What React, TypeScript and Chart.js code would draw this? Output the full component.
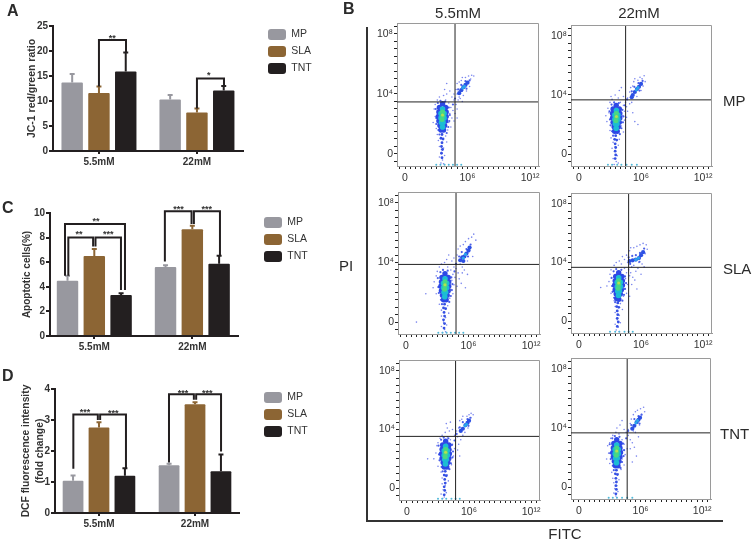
import React, { useEffect, useRef } from "react";
import { Chart, registerables } from "chart.js";

Chart.register(...registerables);
Chart.defaults.font.family = "'Liberation Sans', Arial, sans-serif";

const SERIES = ["MP", "SLA", "TNT"];
const CATEGORIES = ["5.5mM", "22mM"];
const COLORS = ["#98989f", "#8c6534", "#231f20"];

const A_VALUES = [[13.7, 10.3], [11.6, 7.7], [15.9, 12.1]];
const A_ERRORS = [[15.4, 11.2], [12.9, 8.5], [19.7, 13.0]];
const C_VALUES = [[4.5, 5.6], [6.5, 8.67], [3.34, 5.87]];
const C_ERRORS = [[4.9, 5.76], [7.07, 8.97], [3.48, 6.52]];
const D_VALUES = [[1.04, 1.54], [2.76, 3.51], [1.2, 1.35]];
const D_ERRORS = [[1.21, 1.59], [2.93, 3.57], [1.44, 1.89]];

const A_BRACKETS = [
  [[0, 12.9], [0, 22.2], [0.276, 22.2], [0.276, 19.7]],
  [[1, 8.5], [1, 14.5], [1.276, 14.5], [1.276, 13.0]],
];
const A_STARS: [number, number, string][] = [[0.136, 22.7, "**"], [1.12, 15.2, "*"]];
const C_BRACKETS = [
  [[-0.299, 4.9], [-0.299, 9.1], [0.313, 9.1], [0.313, 3.75]],
  [[-0.265, 4.9], [-0.265, 8.0], [-0.012, 8.0], [-0.012, 7.28]],
  [[0.272, 3.75], [0.272, 8.0], [0.012, 8.0], [0.012, 7.28]],
  [[0.72, 6.06], [0.72, 10.15], [0.992, 10.15], [0.992, 9.1]],
  [[1.282, 6.55], [1.282, 10.15], [1.016, 10.15], [1.016, 9.1]],
];
const C_STARS: [number, number, string][] = [
  [-0.156, 8.3, "**"], [0.143, 8.3, "***"], [0.017, 9.4, "**"], [0.86, 10.35, "***"], [1.147, 10.35, "***"],
];
const D_BRACKETS = [
  [[-0.267, 1.43], [-0.267, 3.18], [-0.012, 3.18], [-0.012, 3.0]],
  [[0.281, 1.43], [0.281, 3.18], [0.012, 3.18], [0.012, 3.0]],
  [[0.729, 1.63], [0.729, 3.83], [0.988, 3.83], [0.988, 3.65]],
  [[1.271, 1.98], [1.271, 3.83], [1.012, 3.83], [1.012, 3.65]],
];
const D_STARS: [number, number, string][] = [
  [-0.146, 3.28, "***"], [0.149, 3.25, "***"], [0.875, 3.9, "***"], [1.128, 3.9, "***"],
];

const X_TICK_LABELS: Record<number, string> = { 0: "0", 6: "10⁶", 12: "10¹²" };
const Y_TICK_LABELS: Record<number, string> = { 0: "0", 4: "10⁴", 8: "10⁸" };

const GATE_X = [4.8, 4.51, 4.8, 4.8, 4.7, 4.7];
const GATE_Y = [3.47, 3.67, 3.87, 3.67, 3.53, 3.67];

const SPARSE = [
  [2.8,3.0, 2.9,2.5, 2.7,2.1, 3.0,1.7, 2.9,3.3, 3.1,3.6, 3.3,3.8, 3.7,3.9, 3.9,3.6, 4.2,3.4, 4.4,3.1, 4.3,2.7, 4.5,2.4, 4.2,2.1, 4.6,2.9, 4.4,1.8, 4.1,1.6, 3.1,1.3, 3.2,0.9, 3.9,1.2, 4.0,0.8, 3.3,0.5, 3.7,0.4, 3.5,0.1, 3.8,-0.1, 3.3,-0.2, 3.6,-0.4, 3.45,-0.6, 3.7,-0.65, 3.5,0.3, 4.0,4.0, 3.8,4.3, 4.0,4.7, 4.3,4.2, 4.5,3.8, 4.7,3.6, 4.9,3.3, 5.0,3.0, 4.8,2.7, 5.1,3.6, 4.7,4.0, 4.9,4.3, 5.2,3.8, 5.0,2.4, 4.7,2.2, 5.0,4.7, 5.2,4.8, 5.4,4.9, 5.5,5.1, 5.8,5.1, 6.1,5.2, 6.4,5.25, 6.3,5.0, 6.6,5.2, 5.9,4.2, 5.6,3.9, 5.3,3.7, 6.2,4.5, 5.0,4.0, 5.5,3.5],
  [2.7,2.2, 2.9,2.8, 2.8,3.1, 3.0,3.5, 3.2,3.7, 3.0,1.6, 2.6,2.6, 3.1,3.9, 3.5,4.0, 3.8,3.8, 4.0,3.5, 4.3,3.3, 4.4,2.9, 4.2,2.6, 4.4,2.3, 4.1,1.9, 4.3,1.5, 3.1,1.1, 3.3,0.8, 3.9,1.0, 3.8,0.6, 3.2,0.4, 3.5,0.2, 3.7,-0.1, 3.3,-0.3, 3.6,-0.5, 3.4,-0.7, 3.8,-0.6, 3.5,0.5, 3.9,4.3, 4.1,4.5, 4.3,3.9, 4.5,3.5, 4.6,3.2, 4.7,2.9, 4.9,3.4, 4.7,3.8, 4.9,4.2, 5.1,3.9, 5.0,4.5, 4.6,2.5, 5.2,2.8, 5.4,2.2, 5.2,4.6, 5.3,4.9, 5.4,5.1, 5.7,5.0, 5.9,5.2, 6.1,5.1, 6.3,5.3, 6.4,4.9, 6.0,4.3, 5.6,3.9, 5.7,2.0, 6.2,4.6, 5.1,3.5],
  [2.9,3.1, 2.7,2.7, 2.6,2.3, 2.9,1.9, 3.0,3.4, 3.2,3.7, 3.4,3.9, 3.7,4.0, 4.0,3.7, 4.3,3.5, 4.5,3.2, 4.4,2.8, 4.6,2.5, 4.3,2.2, 4.7,3.0, 4.5,1.9, 4.2,1.6, 3.2,1.2, 3.4,0.8, 4.0,1.1, 4.1,0.6, 3.4,0.4, 3.8,0.3, 3.6,0.0, 3.9,-0.2, 3.4,-0.3, 3.7,-0.5, 3.5,-0.7, 3.8,-0.65, 1.0,0.0, 3.9,4.2, 4.1,4.5, 4.4,4.1, 4.6,3.7, 4.8,3.6, 5.0,3.3, 5.1,2.9, 5.3,2.6, 4.9,2.4, 5.4,3.3, 4.6,4.3, 4.9,4.5, 5.2,3.9, 5.6,3.5, 5.0,4.9, 5.2,5.1, 5.5,5.2, 5.7,5.4, 6.0,5.6, 6.3,5.7, 6.5,5.9, 6.7,5.5, 6.2,5.0, 6.4,4.4, 5.9,4.1, 5.4,3.7, 5.9,3.2, 1.9,1.9, 5.7,2.3],
  [3.0,3.2, 2.9,2.7, 2.7,2.4, 3.1,1.9, 3.1,3.5, 3.4,3.8, 3.6,4.0, 3.9,4.1, 4.1,3.9, 4.4,3.6, 4.6,3.3, 4.5,2.9, 4.7,2.5, 4.4,2.2, 4.9,3.1, 4.6,1.9, 4.3,1.7, 3.4,1.4, 3.5,1.0, 4.0,1.2, 4.2,0.8, 3.5,0.6, 3.9,0.4, 3.7,0.1, 4.0,-0.1, 3.5,-0.2, 3.8,-0.4, 3.6,-0.6, 3.9,-0.7, 2.1,2.3, 4.2,4.4, 4.4,4.2, 4.7,4.0, 4.8,3.5, 5.0,3.3, 5.2,3.0, 5.4,2.8, 5.1,2.5, 5.6,2.2, 5.5,3.4, 4.6,4.5, 4.9,4.8, 5.1,3.7, 5.7,3.6, 6.0,3.2, 5.0,5.0, 5.3,5.0, 5.6,5.1, 5.9,5.2, 6.2,5.3, 6.5,5.2, 6.6,4.9, 6.4,4.6, 6.1,3.9, 5.8,4.0, 5.3,3.8, 6.3,3.7, 4.9,1.7],
  [2.9,2.9, 2.8,2.4, 2.6,2.0, 3.0,1.5, 3.0,3.1, 3.2,3.4, 3.4,3.6, 3.7,3.8, 3.9,3.5, 4.2,3.3, 4.4,3.0, 4.3,2.6, 4.5,2.2, 4.2,1.9, 4.6,2.7, 4.3,1.6, 4.1,1.3, 3.3,1.1, 3.4,0.7, 3.9,0.9, 4.0,0.5, 3.4,0.3, 3.7,0.2, 3.5,-0.1, 3.8,-0.3, 3.3,-0.4, 3.6,-0.6, 3.45,-0.7, 3.9,4.1, 4.1,3.9, 3.8,4.4, 4.2,4.5, 4.4,4.0, 4.6,3.6, 4.9,3.5, 5.0,3.0, 4.9,2.6, 5.2,3.3, 5.1,2.2, 4.8,3.9, 5.0,4.1, 5.4,3.6, 5.1,4.6, 5.3,4.7, 5.4,4.9, 5.8,4.9, 6.0,5.0, 6.2,5.1, 6.4,5.0, 6.1,4.8, 5.9,4.1, 5.6,3.8, 5.3,4.0, 2.0,2.0],
  [2.8,2.8, 2.9,2.3, 2.7,1.9, 3.0,1.6, 3.0,3.0, 3.1,3.3, 3.3,3.5, 3.6,3.7, 3.9,3.6, 4.2,3.2, 4.4,2.9, 4.3,2.5, 4.5,2.2, 4.2,1.9, 4.7,2.6, 4.4,1.5, 4.1,1.2, 3.2,1.0, 3.3,0.6, 3.8,0.9, 3.9,0.5, 3.4,0.3, 3.7,0.1, 3.5,-0.1, 3.8,-0.3, 3.4,-0.4, 3.6,-0.6, 3.7,-0.7, 3.7,4.0, 4.0,4.2, 4.2,4.5, 4.4,3.9, 4.6,3.7, 4.8,3.5, 5.0,3.2, 5.2,3.0, 5.0,2.6, 5.4,2.7, 5.6,2.1, 5.2,1.7, 4.8,3.9, 5.0,4.3, 5.3,3.8, 5.1,4.6, 5.3,4.9, 5.5,5.1, 5.7,5.2, 6.0,5.3, 6.3,5.4, 6.4,5.1, 6.1,4.9, 5.9,4.2, 5.5,3.7, 5.8,3.4],
];

const HALO = [
  [2.95,3.0, 3.0,2.4, 3.0,2.0, 3.15,3.4, 3.4,3.55, 3.85,3.5, 4.2,3.1, 4.3,2.6, 4.25,2.2, 4.15,1.8, 3.2,1.6, 4.0,1.4, 3.3,1.3, 5.1,4.3, 5.4,4.6, 5.8,4.85, 6.2,4.9, 5.9,4.35, 4.8,3.7, 4.6,3.3],
  [2.95,2.9, 3.0,2.35, 3.05,1.95, 3.15,3.35, 3.4,3.5, 3.85,3.45, 4.2,3.0, 4.3,2.55, 4.25,2.15, 4.1,1.75, 3.2,1.55, 3.95,1.35, 3.3,1.25, 5.1,4.25, 5.35,4.55, 5.75,4.8, 6.15,4.95, 5.85,4.3, 4.65,3.7, 4.45,3.3],
  [3.05,2.95, 3.1,2.35, 3.15,1.95, 3.3,3.35, 3.55,3.5, 4.0,3.45, 4.35,3.0, 4.45,2.55, 4.4,2.15, 4.3,1.75, 3.35,1.5, 4.15,1.35, 3.45,1.2, 5.1,4.4, 5.35,4.7, 5.8,4.9, 6.2,5.2, 5.95,4.4, 4.8,3.9, 4.65,3.4],
  [3.15,2.95, 3.2,2.4, 3.25,2.0, 3.35,3.4, 3.6,3.55, 4.1,3.5, 4.45,3.05, 4.55,2.6, 4.45,2.2, 4.35,1.8, 3.4,1.6, 4.2,1.4, 3.5,1.3, 4.8,4.35, 5.15,4.45, 5.5,4.5, 5.9,4.65, 6.3,4.95, 5.85,4.05, 4.95,3.9],
  [3.05,2.9, 3.1,2.3, 3.15,1.9, 3.3,3.3, 3.55,3.45, 4.0,3.4, 4.35,2.95, 4.45,2.5, 4.4,2.1, 4.25,1.7, 3.35,1.45, 4.1,1.3, 3.45,1.15, 5.1,4.15, 5.4,4.5, 5.85,4.7, 6.15,4.8, 5.95,4.25, 4.8,3.7, 4.6,3.25],
  [3.0,2.9, 3.05,2.3, 3.1,1.9, 3.25,3.3, 3.5,3.45, 3.95,3.4, 4.3,2.95, 4.4,2.5, 4.35,2.1, 4.2,1.7, 3.3,1.45, 4.05,1.3, 3.4,1.15, 5.1,4.2, 5.4,4.6, 5.8,4.8, 6.1,4.9, 5.9,4.3, 4.8,3.8, 4.6,3.3],
];

const BLUE = [
  [3.6,3.35, 3.3,3.1, 3.9,3.1, 3.25,2.8, 3.95,2.8, 3.2,2.5, 3.95,2.5, 3.25,2.2, 3.9,2.2, 3.35,1.9, 3.8,1.9, 3.45,1.6, 3.7,1.6],
  [3.6,3.3, 3.3,3.05, 3.9,3.05, 3.25,2.75, 3.95,2.75, 3.25,2.45, 3.95,2.45, 3.3,2.15, 3.9,2.15, 3.4,1.85, 3.8,1.85, 3.45,1.55, 3.7,1.55],
  [3.74,3.25, 3.45,3.0, 4.05,3.0, 3.4,2.7, 4.1,2.7, 3.35,2.4, 4.1,2.4, 3.4,2.1, 4.05,2.1, 3.5,1.8, 3.95,1.8, 3.6,1.5, 3.85,1.5],
  [3.84,3.3, 3.55,3.05, 4.15,3.05, 3.5,2.75, 4.2,2.75, 3.45,2.45, 4.2,2.45, 3.5,2.15, 4.1,2.15, 3.6,1.85, 4.0,1.85, 3.65,1.55, 3.85,1.5],
  [3.74,3.2, 3.45,2.95, 4.05,2.95, 3.4,2.65, 4.05,2.65, 3.35,2.35, 4.1,2.35, 3.4,2.05, 4.05,2.05, 3.5,1.75, 3.95,1.75, 3.6,1.45, 3.85,1.45],
  [3.68,3.2, 3.4,2.95, 4.0,2.95, 3.35,2.65, 4.0,2.65, 3.3,2.35, 4.05,2.35, 3.35,2.05, 4.0,2.05, 3.45,1.75, 3.9,1.75, 3.55,1.45, 3.8,1.45],
];
const TAIL = [
  [3.55,1.3, 3.45,1.05, 3.65,1.0, 3.55,0.75, 3.5,0.5, 3.6,0.3, 3.5,0.05, 3.55,-0.25],
  [3.55,1.25, 3.45,1.0, 3.65,0.95, 3.5,0.7, 3.55,0.45, 3.5,0.2, 3.55,-0.05, 3.5,-0.3],
  [3.7,1.2, 3.6,0.95, 3.8,0.9, 3.65,0.65, 3.7,0.4, 3.6,0.15, 3.7,-0.1, 3.65,-0.4],
  [3.75,1.25, 3.65,1.0, 3.85,0.95, 3.7,0.7, 3.75,0.45, 3.7,0.2, 3.8,-0.05, 3.7,-0.35],
  [3.7,1.15, 3.6,0.9, 3.8,0.85, 3.65,0.6, 3.7,0.35, 3.6,0.1, 3.65,-0.15, 3.6,-0.45],
  [3.65,1.15, 3.55,0.9, 3.75,0.85, 3.6,0.6, 3.65,0.35, 3.6,0.1, 3.65,-0.15, 3.6,-0.45],
];
const CYAN = [
  [3.6,3.0, 3.45,2.7, 3.75,2.7, 3.45,2.4, 3.75,2.4, 3.5,2.1, 3.65,2.1, 3.6,1.8],
  [3.62,2.95, 3.47,2.65, 3.77,2.65, 3.47,2.35, 3.77,2.35, 3.52,2.05, 3.67,2.05, 3.6,1.75],
  [3.74,2.9, 3.6,2.6, 3.9,2.6, 3.6,2.3, 3.9,2.3, 3.65,2.0, 3.8,2.0, 3.72,1.7],
  [3.84,2.95, 3.7,2.65, 4.0,2.65, 3.7,2.35, 4.0,2.35, 3.75,2.05, 3.9,2.05, 3.82,1.75],
  [3.74,2.85, 3.6,2.55, 3.9,2.55, 3.6,2.25, 3.9,2.25, 3.65,1.95, 3.8,1.95, 3.72,1.65],
  [3.68,2.85, 3.53,2.55, 3.83,2.55, 3.53,2.25, 3.83,2.25, 3.58,1.95, 3.73,1.95, 3.66,1.65],
];
const GREEN = [
  [3.6,2.8, 3.6,2.55, 3.55,2.3],
  [3.62,2.75, 3.62,2.5, 3.57,2.25],
  [3.74,2.7, 3.74,2.45, 3.7,2.2],
  [3.84,2.75, 3.84,2.5, 3.8,2.25],
  [3.74,2.65, 3.74,2.4, 3.7,2.15],
  [3.68,2.65, 3.68,2.4, 3.64,2.15],
];
const YELLOW = [
  [3.6,2.6], [3.62,2.55], [3.74,2.5], [3.84,2.6], [3.74,2.45], [3.68,2.45],
];
const CLUSTER = [
  [5.2,4.05, 5.4,4.25, 5.6,4.45, 5.8,4.6, 6.0,4.75],
  [5.2,4.0, 5.4,4.2, 5.6,4.4, 5.8,4.55, 6.0,4.75, 5.1,3.85],
  [5.2,4.15, 5.4,4.35, 5.6,4.4, 5.8,4.6, 6.0,4.8, 5.5,4.1, 6.1,5.0],
  [4.9,4.1, 5.2,4.15, 5.5,4.2, 5.8,4.3, 6.0,4.5, 6.2,4.7],
  [5.2,3.9, 5.4,4.05, 5.66,4.3, 5.85,4.45, 6.0,4.6],
  [5.2,3.95, 5.4,4.15, 5.63,4.4, 5.8,4.55, 5.95,4.7],
];
const CLUSTER_CORE = [
  [5.55,4.4, 5.7,4.5],
  [5.55,4.35, 5.7,4.5],
  [5.5,4.3, 5.7,4.55],
  [5.5,4.2, 5.75,4.3],
  [5.6,4.25, 5.75,4.35],
  [5.55,4.35, 5.7,4.5],
];
const STRIP = [
  [3.0,-0.72, 3.4,-0.72, 3.8,-0.72, 4.2,-0.72, 4.6,-0.72, 5.0,-0.72, 5.4,-0.72],
  [2.8,-0.72, 3.2,-0.72, 3.7,-0.72, 4.1,-0.72, 4.6,-0.72, 5.1,-0.72, 5.6,-0.72],
  [3.1,-0.72, 3.5,-0.72, 3.9,-0.72, 4.3,-0.72, 4.7,-0.72, 5.1,-0.72, 5.5,-0.72],
  [3.0,-0.72, 3.5,-0.72, 3.9,-0.72, 4.4,-0.72, 4.8,-0.72, 5.2,-0.72],
  [3.0,-0.72, 3.4,-0.72, 3.8,-0.72, 4.3,-0.72, 4.7,-0.72, 5.1,-0.72],
  [2.9,-0.72, 3.3,-0.72, 3.7,-0.72, 4.2,-0.72, 4.7,-0.72, 5.2,-0.72],
];

const pairs = (flat: number[]) => {
  const out: { x: number; y: number }[] = [];
  for (let i = 0; i + 1 < flat.length; i += 2) out.push({ x: flat[i], y: flat[i + 1] });
  return out;
};

const INK = "#231f20";

const annotate = {
  id: "annotate",
  afterDatasetsDraw(chart: any, _a: any, o: any) {
    const ctx = chart.ctx;
    const xs = chart.scales.x;
    const ys = chart.scales.y;
    ctx.save();
    o.errors.forEach((row: number[], s: number) => {
      const meta = chart.getDatasetMeta(s);
      row.forEach((v: number, i: number) => {
        const x = meta.data[i].x;
        const y = ys.getPixelForValue(v);
        ctx.strokeStyle = COLORS[s];
        ctx.lineWidth = 2;
        ctx.beginPath();
        ctx.moveTo(x, meta.data[i].y);
        ctx.lineTo(x, y);
        ctx.moveTo(x - 2.5, y);
        ctx.lineTo(x + 2.5, y);
        ctx.stroke();
      });
    });
    ctx.strokeStyle = INK;
    ctx.lineWidth = 2;
    ctx.lineJoin = "miter";
    o.brackets.forEach((path: number[][]) => {
      ctx.beginPath();
      path.forEach(([vx, vy], i) => {
        const px = xs.getPixelForValue(vx);
        const py = ys.getPixelForValue(vy);
        if (i === 0) ctx.moveTo(px, py);
        else ctx.lineTo(px, py);
      });
      ctx.stroke();
    });
    ctx.fillStyle = "#333";
    ctx.font = "bold 9px 'Liberation Sans'";
    ctx.textAlign = "center";
    ctx.textBaseline = "middle";
    o.stars.forEach(([vx, vy, t]: [number, number, string]) => {
      ctx.fillText(t, xs.getPixelForValue(vx), ys.getPixelForValue(vy) + 1);
    });
    ctx.restore();
  },
  afterLayout(chart: any, _a: any, o: any) {
    const lg = chart.legend;
    lg.left = o.legendX;
    lg.top = o.legendY;
    lg.right = o.legendX + 80;
    lg.bottom = o.legendY + 70;
  },
};

const frame = {
  id: "frame",
  afterDraw(chart: any) {
    const { left, top, right, bottom } = chart.chartArea;
    const ctx = chart.ctx;
    ctx.save();
    ctx.strokeStyle = "#9a9a9a";
    ctx.lineWidth = 1;
    ctx.beginPath();
    ctx.moveTo(left, top + 0.5);
    ctx.lineTo(right - 0.5, top + 0.5);
    ctx.lineTo(right - 0.5, bottom);
    ctx.stroke();
    ctx.restore();
  },
};

type BarSpec = {
  box: number[]; // left, top, right, bottom of the plot
  min: number; max: number;
  yMax: number; step: number;
  values: number[][]; errors: number[][];
  brackets: number[][][]; stars: [number, number, string][];
  title: string | string[]; titlePad: number; titleSize: number;
  legend: number[];
  cat: number;
};

function BarPanel({ spec, canvasBox }: { spec: BarSpec; canvasBox: number[] }) {
  const ref = useRef<HTMLCanvasElement>(null);
  useEffect(() => {
    const [cx, cy, cw, ch] = canvasBox;
    const [l, t, r, b] = spec.box;
    const chart = new Chart(ref.current!, {
      type: "bar",
      data: {
        datasets: SERIES.map((name, s) => ({
          label: name,
          data: spec.values[s].map((v, i) => ({ x: i, y: v })),
          backgroundColor: COLORS[s],
          borderColor: COLORS[s],
          borderRadius: 1,
          categoryPercentage: spec.cat,
          barPercentage: 0.8,
        })),
      },
      plugins: [annotate],
      options: {
        animation: false,
        responsive: false,
        layout: { padding: { left: 0, top: t - cy, right: cx + cw - r, bottom: 0 } },
        scales: {
          x: {
            type: "linear",
            offset: false,
            min: spec.min,
            max: spec.max,
            afterFit: (s: any) => { s.height = cy + ch - b; },
            ticks: {
              stepSize: 1,
              includeBounds: false,
              autoSkip: false,
              maxRotation: 0,
              padding: 2,
              color: "#333",
              font: { size: 10, weight: "bold" },
              callback: (v: any) => CATEGORIES[v] ?? "",
            },
            grid: { offset: false, drawOnChartArea: false, color: INK, lineWidth: 2, tickLength: 3 },
            border: { color: INK, width: 2 },
          },
          y: {
            min: 0,
            max: spec.yMax,
            afterFit: (s: any) => { s.width = l - cx; },
            ticks: {
              stepSize: spec.step,
              padding: 1,
              color: "#333",
              font: { size: 10, weight: "bold" },
            },
            grid: { drawOnChartArea: false, color: INK, lineWidth: 2, tickLength: 4 },
            border: { color: INK, width: 2 },
            title: {
              display: true,
              text: spec.title,
              color: "#333",
              padding: { top: spec.titlePad, bottom: 0 },
              font: { size: spec.titleSize, weight: "bold", lineHeight: 1.4 },
            },
          },
        },
        plugins: {
          tooltip: { enabled: false },
          legend: {
            position: "chartArea",
            align: "start",
            labels: {
              boxWidth: 18,
              boxHeight: 11,
              padding: 6,
              useBorderRadius: true,
              borderRadius: 3,
              color: "#333",
              font: { size: 10.5 },
            },
          },
          annotate: {
            errors: spec.errors,
            brackets: spec.brackets,
            stars: spec.stars,
            legendX: spec.legend[0] - cx,
            legendY: spec.legend[1] - cy,
          },
        },
      } as any,
    });
    return () => chart.destroy();
  }, []);
  const [cx, cy, cw, ch] = canvasBox;
  return <canvas ref={ref} width={cw} height={ch} style={{ position: "absolute", left: cx, top: cy, width: cw, height: ch }} />;
}

function FlowPanel({ idx, box }: { idx: number; box: number[] }) {
  const ref = useRef<HTMLCanvasElement>(null);
  const [L, T, R, B] = box;
  const cx = L - 30, cy = T - 8, cw = R - L + 42, ch = B - T + 8 + 24;
  useEffect(() => {
    const line = (data: any[]) => ({ type: "line", data, showLine: true, borderColor: "#222", borderWidth: 1, pointRadius: 0 });
    const dots = (flat: number[], color: string, radius: number) => ({ data: pairs(flat), backgroundColor: color, borderWidth: 0, pointRadius: radius });
    const chart = new Chart(ref.current!, {
      type: "scatter",
      data: {
        datasets: [
          line([{ x: GATE_X[idx], y: -0.8 }, { x: GATE_X[idx], y: 8.73 }]),
          line([{ x: -0.77, y: GATE_Y[idx] }, { x: 12.86, y: GATE_Y[idx] }]),
          dots(YELLOW[idx], "#b4e050", 1.5),
          dots(GREEN[idx], "#48d884", 2.5),
          dots(CYAN[idx], "#1cbcd4", 2.8),
          dots(CLUSTER_CORE[idx], "#2aa4ea", 1.6),
          dots(CLUSTER[idx], "#2c50e4", 2.1),
          dots(BLUE[idx], "#2c48e6", 2.7),
          dots(TAIL[idx], "#3550e4", 1.4),
          dots(STRIP[idx], "#50b8d8", 1),
          dots(HALO[idx], "#4a5fe8", 1.1),
          dots(SPARSE[idx], "#7a86ee", 0.8),
        ],
      },
      plugins: [frame],
      options: {
        animation: false,
        responsive: false,
        layout: { padding: { left: 0, top: 8, right: 12, bottom: 0 } },
        scales: {
          x: {
            type: "linear",
            min: -0.77,
            max: 12.86,
            afterFit: (s: any) => { s.height = 24; },
            ticks: {
              stepSize: 0.5,
              includeBounds: false,
              autoSkip: false,
              maxRotation: 0,
              padding: 3,
              color: "#333",
              font: { size: 10.5 },
              callback: (v: any) => X_TICK_LABELS[v] ?? "",
            },
            grid: { drawOnChartArea: false, color: "#222", lineWidth: 1, tickLength: 3 },
            border: { color: "#9a9a9a", width: 1 },
          },
          y: {
            min: -0.8,
            max: 8.73,
            afterFit: (s: any) => { s.width = 30; },
            ticks: {
              stepSize: 0.5,
              includeBounds: false,
              autoSkip: false,
              padding: 1,
              color: "#333",
              font: { size: 10.5 },
              callback: (v: any) => Y_TICK_LABELS[v] ?? "",
            },
            grid: { drawOnChartArea: false, color: "#222", lineWidth: 1, tickLength: 3 },
            border: { color: "#9a9a9a", width: 1 },
          },
        },
        plugins: { legend: { display: false }, tooltip: { enabled: false } },
      } as any,
    });
    return () => chart.destroy();
  }, []);
  return <canvas ref={ref} width={cw} height={ch} style={{ position: "absolute", left: cx, top: cy, width: cw, height: ch }} />;
}

const SPEC_A: BarSpec = { box: [53, 26, 243, 151], min: -0.469, max: 1.47, yMax: 25, step: 5, values: A_VALUES, errors: A_ERRORS, brackets: A_BRACKETS, stars: A_STARS, title: "JC-1 red/green ratio", titlePad: 25, titleSize: 10.5, legend: [262, 23], cat: 0.82 };
const SPEC_C: BarSpec = { box: [50, 213, 238, 336], min: -0.452, max: 1.466, yMax: 10, step: 2, values: C_VALUES, errors: C_ERRORS, brackets: C_BRACKETS, stars: C_STARS, title: "Apoptotic cells(%)", titlePad: 20, titleSize: 10, legend: [258, 211], cat: 0.82 };
const SPEC_D: BarSpec = { box: [55, 389, 239, 513], min: -0.458, max: 1.458, yMax: 4, step: 1, values: D_VALUES, errors: D_ERRORS, brackets: D_BRACKETS, stars: D_STARS, title: ["DCF fluorescence intensity", "(fold change)"], titlePad: 19, titleSize: 10.3, legend: [258, 386], cat: 0.81 };

const FLOW_BOXES = [
  [397, 23, 539, 166], [571, 25, 712, 166],
  [398, 192, 540, 334], [571, 193, 712, 333],
  [399, 360, 540, 500], [571, 358, 711, 499],
];

const LABELS: [string, number, number, number, string, boolean][] = [
  ["A", 7, 11, 16, "left", true],
  ["B", 343, 9, 16, "left", true],
  ["C", 2, 208, 16, "left", true],
  ["D", 2, 376, 16, "left", true],
  ["5.5mM", 458, 12, 15, "center", false],
  ["22mM", 639, 12, 15, "center", false],
  ["MP", 723, 100, 15, "left", false],
  ["SLA", 723, 268, 15, "left", false],
  ["TNT", 720, 433, 15, "left", false],
  ["PI", 339, 265, 15, "left", false],
  ["FITC", 565, 533, 15, "center", false],
];

export default function App() {
  return (
    <div style={{ position: "fixed", left: 0, top: 0, width: 753, height: 544, background: "#fff", overflow: "hidden", fontFamily: "'Liberation Sans', Arial, sans-serif", color: "#2b2b2b", filter: "blur(0.4px)" }}>
      <BarPanel spec={SPEC_A} canvasBox={[0, 0, 340, 180]} />
      <BarPanel spec={SPEC_C} canvasBox={[0, 190, 340, 170]} />
      <BarPanel spec={SPEC_D} canvasBox={[0, 360, 340, 180]} />
      {FLOW_BOXES.map((box, i) => <FlowPanel key={i} idx={i} box={box} />)}
      <div style={{ position: "absolute", left: 366, top: 27, width: 2, height: 495, background: "#333" }} />
      <div style={{ position: "absolute", left: 366, top: 520, width: 357, height: 2, background: "#333" }} />
      {LABELS.map(([t, x, y, size, align, bold]) => (
        <div key={t} style={{
          position: "absolute", left: x, top: y, fontSize: size, fontWeight: bold ? "bold" : "normal", lineHeight: 1, whiteSpace: "nowrap",
          transform: align === "center" ? "translate(-50%,-50%)" : "translate(0,-50%)",
        }}>{t}</div>
      ))}
    </div>
  );
}
